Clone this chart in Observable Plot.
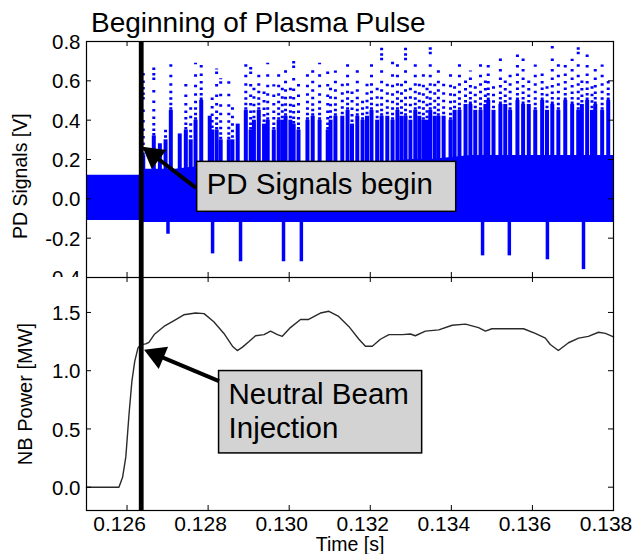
<!DOCTYPE html>
<html>
<head>
<meta charset="utf-8">
<script src="https://cdn.jsdelivr.net/npm/d3@7"></script>
<script src="https://cdn.jsdelivr.net/npm/@observablehq/plot@0.6"></script>
<style>
  body { margin: 0; background: #fff; }
  #wrap { position: relative; width: 635px; height: 554px; overflow: hidden; background: #fff;
          font-family: "Liberation Sans", Arial, Helvetica, sans-serif; }
  #top { position: absolute; left: 0; top: 0; }
  #bot { position: absolute; left: 0; top: 277px; }
  #title { position: absolute; left: 91px; top: 9px; font-size: 28px; line-height: 28px; color: #000; white-space: nowrap; }
</style>
</head>
<body>
<div id="wrap">
  <div id="top"></div>
  <div id="bot"></div>
  <div id="title">Beginning of Plasma Pulse</div>
</div>
<script>
// ---------------- data ----------------
const xTicks = [0.126, 0.128, 0.130, 0.132, 0.134, 0.136, 0.138];
const pdTicks = [-0.4, -0.2, 0.0, 0.2, 0.4, 0.6, 0.8];
const nbTicks = [0.0, 0.5, 1.0, 1.5];
const xDomain = [0.125, 0.138];
const pdDomain = [-0.4, 0.8];
const nbDomain = [-0.2, 1.8];

const beamOnTime = [0.12635];

// dense core of the PD signal scatter (upper / lower envelope)
const bandT  = [0.1250, 0.1255, 0.1260, 0.12633, 0.12637, 0.1268, 0.1272, 0.1276, 0.1280, 0.1285, 0.1290, 0.1295, 0.1300, 0.1305, 0.1310, 0.1315, 0.1320, 0.1325, 0.1330, 0.1335, 0.1340, 0.1345, 0.1350, 0.1360, 0.1370, 0.1380];
const bandHi = [0.12, 0.12, 0.12, 0.12, 0.15, 0.15, 0.15, 0.16, 0.16, 0.16, 0.17, 0.17, 0.17, 0.18, 0.18, 0.18, 0.19, 0.19, 0.20, 0.20, 0.21, 0.22, 0.22, 0.22, 0.22, 0.22];
const bandLo = [-0.11, -0.11, -0.11, -0.11, -0.12, -0.12, -0.12, -0.12, -0.12, -0.12, -0.12, -0.12, -0.12, -0.12, -0.12, -0.12, -0.12, -0.12, -0.12, -0.12, -0.12, -0.12, -0.12, -0.12, -0.12, -0.12];

// main positive bursts: time, level up to which points are dense, highest point
const colT = [0.12640, 0.12666, 0.12681, 0.12708, 0.12730, 0.12745, 0.12769, 0.12783, 0.12804, 0.12821,
              0.12831, 0.12851, 0.12873, 0.12893, 0.12905, 0.12925, 0.12947, 0.12962, 0.12974, 0.12991,
              0.13011, 0.13023, 0.13045, 0.13058, 0.13075, 0.13095, 0.13114, 0.13144, 0.13168, 0.13181,
              0.13203, 0.13228, 0.13255, 0.13267, 0.13287, 0.13311, 0.13331, 0.13348, 0.13368, 0.13398,
              0.13420, 0.13447, 0.13472, 0.13491, 0.13521, 0.13545, 0.13563, 0.13577, 0.13607, 0.13624,
              0.13649, 0.13664, 0.13681, 0.13698, 0.13713, 0.13735, 0.13755, 0.13772, 0.13787];
const colDense = [0.22, 0.32, 0.28, 0.45, 0.33, 0.35, 0.40, 0.50, 0.42, 0.35,
                  0.30, 0.30, 0.38, 0.45, 0.35, 0.45, 0.40, 0.35, 0.40, 0.42,
                  0.38, 0.35, 0.40, 0.42, 0.40, 0.35, 0.42, 0.45, 0.42, 0.40,
                  0.45, 0.42, 0.40, 0.45, 0.42, 0.45, 0.40, 0.45, 0.42, 0.40,
                  0.45, 0.48, 0.45, 0.50, 0.48, 0.45, 0.50, 0.48, 0.45, 0.50,
                  0.48, 0.45, 0.50, 0.48, 0.45, 0.50, 0.48, 0.45, 0.50];
const colTop = [0.66, 0.685, 0.28, 0.71, 0.33, 0.61, 0.69, 0.685, 0.42, 0.66,
                0.61, 0.60, 0.38, 0.71, 0.67, 0.65, 0.69, 0.58, 0.66, 0.685,
                0.70, 0.63, 0.66, 0.67, 0.69, 0.65, 0.65, 0.70, 0.69, 0.50,
                0.72, 0.78, 0.70, 0.685, 0.78, 0.73, 0.68, 0.78, 0.68, 0.66,
                0.69, 0.65, 0.71, 0.71, 0.72, 0.66, 0.78, 0.72, 0.68, 0.66,
                0.78, 0.69, 0.68, 0.71, 0.78, 0.77, 0.66, 0.68, 0.61];

// smaller bursts between the main ones
const minorT = [0.12695, 0.12757, 0.12810, 0.12860, 0.12913, 0.12938, 0.12983, 0.13003,
                0.13102, 0.13131, 0.13155, 0.13192, 0.13217, 0.13242, 0.13277, 0.13299, 0.13321,
                0.13340, 0.13359, 0.13381, 0.13408, 0.13435, 0.13459, 0.13484, 0.13504, 0.13533,
                0.13591, 0.13636, 0.13722, 0.13747];
const minorDense = [0.30, 0.30, 0.35, 0.30, 0.40, 0.38, 0.40, 0.40,
                    0.40, 0.42, 0.38, 0.42, 0.40, 0.42, 0.42, 0.40, 0.42,
                    0.40, 0.42, 0.42, 0.45, 0.48, 0.45, 0.48, 0.45, 0.48,
                    0.48, 0.45, 0.48, 0.45];
const minorTop = [0.35, 0.50, 0.55, 0.50, 0.60, 0.55, 0.60, 0.60,
                  0.60, 0.60, 0.55, 0.62, 0.60, 0.60, 0.62, 0.60, 0.62,
                  0.58, 0.60, 0.62, 0.60, 0.62, 0.60, 0.62, 0.60, 0.62,
                  0.62, 0.60, 0.62, 0.60];

// negative bursts: time, lowest point
const spikeT   = [0.12701, 0.12811, 0.12880, 0.12986, 0.13030, 0.13477, 0.13543, 0.13637, 0.13726];
const spikeMin = [-0.18, -0.28, -0.32, -0.32, -0.32, -0.29, -0.29, -0.31, -0.36];

// neutral beam power
const nbT = [0.12500, 0.12580, 0.12589, 0.12597, 0.12605, 0.12612, 0.12619, 0.12627, 0.12634, 0.12646,
             0.12654, 0.12667, 0.12691, 0.12716, 0.12740, 0.12769, 0.12790, 0.12814, 0.12839, 0.12860,
             0.12872, 0.12884, 0.12901, 0.12917, 0.12938, 0.12954, 0.12971, 0.12983, 0.13003, 0.13028,
             0.13048, 0.13077, 0.13098, 0.13122, 0.13147, 0.13172, 0.13188, 0.13205, 0.13225, 0.13246,
             0.13279, 0.13299, 0.13311, 0.13336, 0.13369, 0.13402, 0.13435, 0.13467, 0.13484, 0.13500,
             0.13533, 0.13578, 0.13607, 0.13632, 0.13644, 0.13664, 0.13689, 0.13714, 0.13738, 0.13763,
             0.13780, 0.13800];
const nbP = [0.00, 0.00, 0.085, 0.26, 0.63, 0.91, 1.08, 1.196, 1.225, 1.23,
             1.244, 1.31, 1.38, 1.43, 1.48, 1.495, 1.49, 1.42, 1.32, 1.21,
             1.173, 1.20, 1.25, 1.30, 1.31, 1.34, 1.31, 1.295, 1.37, 1.44,
             1.44, 1.495, 1.51, 1.466, 1.38, 1.27, 1.21, 1.21, 1.27, 1.31,
             1.31, 1.315, 1.30, 1.34, 1.35, 1.39, 1.40, 1.37, 1.34, 1.36,
             1.36, 1.36, 1.32, 1.28, 1.225, 1.173, 1.24, 1.28, 1.295, 1.33,
             1.32, 1.29];

// annotations (data units)
const pdNote = {text: "PD Signals begin", x1: 0.12773, x2: 0.13412, y1: -0.066, y2: 0.188, textY: 0.081,
                tailT: 0.12770, tailV: 0.056, tipT: 0.12638, tipV: 0.265};
const nbNote = {text: "Neutral Beam\nInjection", x1: 0.12827, x2: 0.13328, y1: 0.29, y2: 0.997, textY: 0.66,
                tailT: 0.12827, tailV: 0.91, tipT: 0.12642, tipV: 1.18};
const pdLabel = [{label: "PD Signals [V]", v: 0.115}];
const nbLabel = [{label: "NB Power [MW]", v: 0.8}];
const timeLabel = [{label: "Time [s]"}];

// ---------------- layout ----------------
const W = 635, mL = 86, mR = 22;
const topH = 277, topMT = 41;
const botH = 277, botMB = 44;
const blue = "#0000ff";
const fontFamily = "'Liberation Sans', Arial, Helvetica, sans-serif";

const band = bandT.map((t, i) => ({t, hi: bandHi[i], lo: bandLo[i]}));
const mainCols = colT.map((t, i) => ({t, dense: colDense[i], top: colTop[i]}));
const minorCols = minorT.map((t, i) => ({t, dense: minorDense[i], top: minorTop[i]}));
const spikes = spikeT.map((t, i) => ({t, min: spikeMin[i]}));
const nb = nbT.map((t, i) => ({t, p: nbP[i]}));

function inwardTicks(xt, yt, innerW, innerH) {
  const len = 5;
  return [
    Plot.ruleX(xt, {x: d => d, insetTop: innerH - len, stroke: "black", strokeWidth: 1}),
    Plot.ruleX(xt, {x: d => d, insetBottom: innerH - len, stroke: "black", strokeWidth: 1}),
    Plot.ruleY(yt, {y: d => d, insetRight: innerW - len, stroke: "black", strokeWidth: 1}),
    Plot.ruleY(yt, {y: d => d, insetLeft: innerW - len, stroke: "black", strokeWidth: 1})
  ];
}

function yTickLabels(ticks) {
  return Plot.text(ticks, {frameAnchor: "left", y: d => d, text: d => d.toFixed(1), dx: -6, dy: 1,
                           textAnchor: "end", lineAnchor: "middle", fontSize: 20.5, fill: "black"});
}

function arrowMarks(a, xs, ys) {
  const r = 9;
  const P = [xs(a.tipT), ys(a.tipV)], Q = [xs(a.tailT), ys(a.tailV)];
  const L = Math.hypot(P[0] - Q[0], P[1] - Q[1]);
  const u = [(P[0] - Q[0]) / L, (P[1] - Q[1]) / L];
  const k = 1.555 * r;
  const C = [P[0] - u[0] * k, P[1] - u[1] * k];
  const line = [{x1: a.tailT, y1: a.tailV, x2: xs.invert(C[0]), y2: ys.invert(C[1])}];
  const head = [{t: a.tipT, v: a.tipV}];
  return [
    Plot.link(line, {x1: "x1", y1: "y1", x2: "x2", y2: "y2", stroke: "black", strokeWidth: 4}),
    Plot.dot(head, {x: "t", y: "v", symbol: "triangle", r, fill: "black", stroke: "none",
                    rotate: Math.atan2(u[0], -u[1]) * 180 / Math.PI, dx: -u[0] * k, dy: -u[1] * k})
  ];
}

function noteMarks(n) {
  return [
    Plot.rect([n], {x1: "x1", x2: "x2", y1: "y1", y2: "y2", fill: "#d3d3d3", stroke: "black", strokeWidth: 1.5}),
    Plot.text([n], {x: "x1", y: "textY", text: "text", textAnchor: "start", lineAnchor: "middle",
                    dx: 9.5, fontSize: 29.5, lineHeight: 1.13, fill: "black"})
  ];
}

function burstMarks(data, offset) {
  return [
    Plot.ruleX(data, {x: "t", y1: 0, y2: "dense", stroke: blue, strokeWidth: 4}),
    Plot.ruleX(data, {x: "t", y1: "dense", y2: "top", stroke: blue, strokeWidth: 3,
                      strokeDasharray: "2.5,2,2.5,3,2.5,4,2.5,5,2.5,6,2.5,8,2.5,10",
                      strokeDashoffset: offset})
  ];
}

// ---------------- top panel ----------------
{
  const innerW = W - mL - mR, innerH = topH - topMT;
  const xs = d3.scaleLinear(xDomain, [mL, W - mR]);
  const ys = d3.scaleLinear(pdDomain, [topH, topMT]);
  const chart = Plot.plot({
    width: W, height: topH,
    marginLeft: mL, marginRight: mR, marginTop: topMT, marginBottom: 0,
    style: {background: "white", fontFamily, fontSize: "20px", overflow: "hidden"},
    x: {domain: xDomain, axis: null},
    y: {domain: pdDomain, axis: null},
    marks: [
      ...burstMarks(mainCols, 0),
      ...burstMarks(minorCols, 3),
      Plot.ruleX(spikes, {x: "t", y1: 0, y2: "min", stroke: blue, strokeWidth: 3.5}),
      Plot.areaY(band, {x: "t", y1: "lo", y2: "hi", fill: blue}),
      yTickLabels(pdTicks),
      ...inwardTicks(xTicks, pdTicks, innerW, innerH),
      Plot.frame({stroke: "black", strokeWidth: 1.2}),
      Plot.text(pdLabel, {frameAnchor: "left", y: "v", text: "label", rotate: -90, dx: -66,
                          fontSize: 19.5, textAnchor: "middle", lineAnchor: "middle", fill: "black"}),
      Plot.ruleX(beamOnTime, {x: d => d, stroke: "black", strokeWidth: 4.8}),
      ...noteMarks(pdNote),
      ...arrowMarks(pdNote, xs, ys)
    ]
  });
  document.getElementById("top").appendChild(chart);
}

// ---------------- bottom panel ----------------
{
  const innerW = W - mL - mR, innerH = botH - botMB;
  const xs = d3.scaleLinear(xDomain, [mL, W - mR]);
  const ys = d3.scaleLinear(nbDomain, [botH - botMB, 0]);
  const chart = Plot.plot({
    width: W, height: botH,
    marginLeft: mL, marginRight: mR, marginTop: 0, marginBottom: botMB,
    style: {background: "white", fontFamily, fontSize: "20px", overflow: "hidden"},
    x: {domain: xDomain, axis: null},
    y: {domain: nbDomain, axis: null},
    marks: [
      Plot.line(nb, {x: "t", y: "p", stroke: "#2a2a2a", strokeWidth: 1.4}),
      yTickLabels(nbTicks),
      Plot.text(xTicks, {frameAnchor: "bottom", x: d => d, text: d => d.toFixed(3), dx: -7.5, dy: 14,
                         textAnchor: "middle", lineAnchor: "middle", fontSize: 21, fill: "black"}),
      ...inwardTicks(xTicks, nbTicks, innerW, innerH),
      Plot.frame({stroke: "black", strokeWidth: 1.2}),
      Plot.text(nbLabel, {frameAnchor: "left", y: "v", text: "label", rotate: -90, dx: -61,
                          fontSize: 20, textAnchor: "middle", lineAnchor: "middle", fill: "black"}),
      Plot.text(timeLabel, {frameAnchor: "bottom", text: "label", dy: 34, fontSize: 19.5,
                            textAnchor: "middle", lineAnchor: "middle", fill: "black"}),
      Plot.ruleX(beamOnTime, {x: d => d, stroke: "black", strokeWidth: 4.8}),
      ...noteMarks(nbNote),
      ...arrowMarks(nbNote, xs, ys)
    ]
  });
  document.getElementById("bot").appendChild(chart);
}
</script>
</body>
</html>
